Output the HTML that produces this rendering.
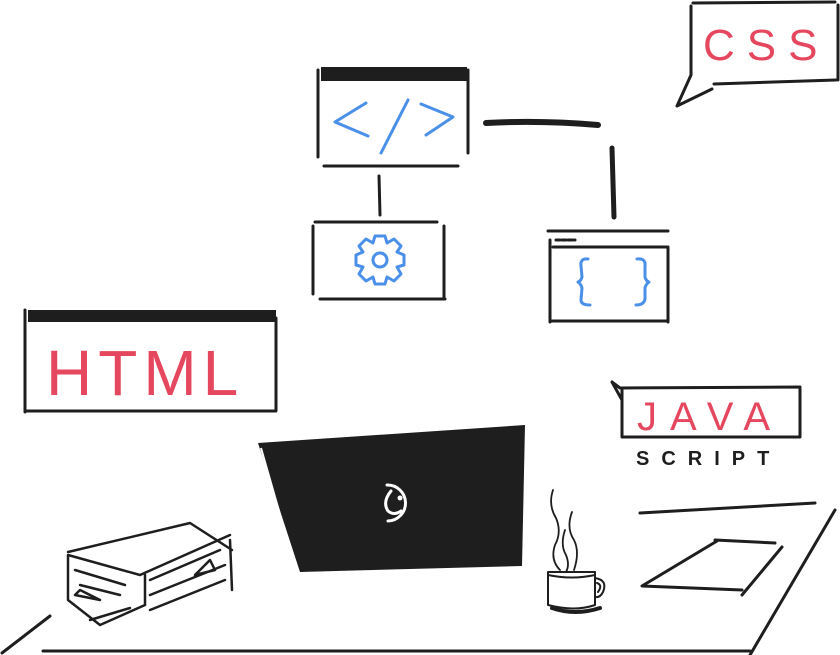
<!DOCTYPE html>
<html><head><meta charset="utf-8"><style>
html,body{margin:0;padding:0;background:#fff;width:840px;height:655px;overflow:hidden}
svg{display:block}
text{font-family:"Liberation Sans",sans-serif}
</style></head><body>
<svg width="840" height="655" viewBox="0 0 840 655" xmlns="http://www.w3.org/2000/svg">
<g fill="none" stroke="#1e1e1e" stroke-linecap="round" stroke-linejoin="round">
<path d="M693 3 L835 2 M691 6 L691 75 M838 5 L838 80 M714 84 L836 80 M691 75 L677 106 L712 89" stroke-width="3"/>
<rect x="321" y="67" width="146" height="14" fill="#1e1e1e" stroke="none"/>
<path d="M318 70 L318 157 M468 70 L468 153 M324 166 L458 166" stroke-width="3"/>
<path d="M486 123 Q540 120 598 125" stroke-width="6"/>
<path d="M612 148 L614 217" stroke-width="5"/>
<path d="M379 176 L380 215" stroke-width="3"/>
<path d="M315 222 L437 222 M313 226 L313 294 M444 226 L444 298 M320 299 L445 299" stroke-width="3"/>
<path d="M548 231 L668 231 M553 247 L668 247 M550 240 L550 322 M668 248 L668 322 M552 321 L668 321" stroke-width="3"/>
<path d="M556 240 L575 240" stroke-width="3" stroke-dasharray="4 2"/>
<rect x="28" y="310" width="248" height="12" fill="#1e1e1e" stroke="none"/>
<path d="M25 310 L25 412 M276 318 L276 410 M27 411 L276 411" stroke-width="3"/>
<path d="M612 382 L620 388 L800 387 M622 390 L622 437 M800 388 L800 437 M622 437 L800 437 M612 382 L622 400" stroke-width="3"/>
<path d="M43 651 L750 651 M835 510 L750 655 M50 616 L2 653 M640 513 L815 503" stroke-width="3"/>
<path d="M715 540 L775 543 M782 547 L742 595 M717 541 L642 586 L742 590" stroke-width="3"/>
<path d="M68 552 L190 523 L232 550 M68 555 L68 600 L100 625 L145 605 M68 555 L140 575 L230 535 M230 540 L232 590 M145 575 L145 605 M75 570 L125 585 M80 585 L120 595 M150 580 L220 550 M150 595 L225 565 M150 610 L225 580 M90 620 L130 608 M75 595 L100 600 L80 590 Z M210 560 L195 575 L215 570 Z" stroke-width="2.5"/>
<path d="M548 572 L548 605 Q575 612 595 605 L595 572 Z M548 575 Q572 580 595 575 M595 578 Q608 580 603 592 Q600 598 595 597 M597 583 Q603 585 598 592" stroke-width="2"/>
<path d="M552 608 Q575 616 600 608" stroke-width="4"/>
<path d="M553 490 Q548 505 556 518 Q562 532 555 545 Q550 560 560 570 M572 512 Q566 528 574 540 Q580 552 574 570 M565 530 Q560 545 566 555 Q570 565 566 572" stroke-width="1.8"/>
</g>
<polygon points="258,443 525,425 522,566 300,572" fill="#1e1e1e"/>
<path d="M261 448 L293 560" stroke="#fff" stroke-width="2"/>
<path d="M387 485 A15 15 0 1 1 388 521 M391 491 Q382 502 388 511 Q394 516 401 511" fill="none" stroke="#fff" stroke-width="3" stroke-linecap="round"/>
<circle cx="400" cy="498" r="2.5" fill="#fff"/>
<g fill="none" stroke="#4a8fe8" stroke-width="3" stroke-linecap="round" stroke-linejoin="round">
<path d="M366 103 L335 122 L368 136 M408 100 L381 153 M421 104 L453 117 L426 135"/>
<circle cx="380" cy="260" r="7"/>
<path d="M375 236 L385 236 L387 243 L394 239 L401 246 L397 252 L404 255 L404 265 L397 267 L401 274 L394 281 L387 277 L385 284 L375 284 L373 277 L366 281 L359 274 L363 267 L356 265 L356 255 L363 252 L359 246 L366 239 L373 243 Z"/>
<path d="M588 259 Q580 258 581 266 L582 277 Q581 281 578 282 Q581 284 582 288 L581 300 Q581 305 590 305 M637 259 Q646 258 645 266 L645 277 Q646 281 649 282 Q646 284 645 288 L645 299 Q644 305 636 305"/>
</g>
<text x="703" y="60" font-size="44" fill="#e5485e" letter-spacing="12">CSS</text>
<text x="46" y="395" font-size="64" fill="#e5485e" letter-spacing="6">HTML</text>
<text x="637" y="430" font-size="40" fill="#e5485e" letter-spacing="13">JAVA</text>
<text x="636" y="465" font-size="20" font-weight="bold" fill="#1e1e1e" letter-spacing="12">SCRIPT</text>
</svg>
</body></html>
